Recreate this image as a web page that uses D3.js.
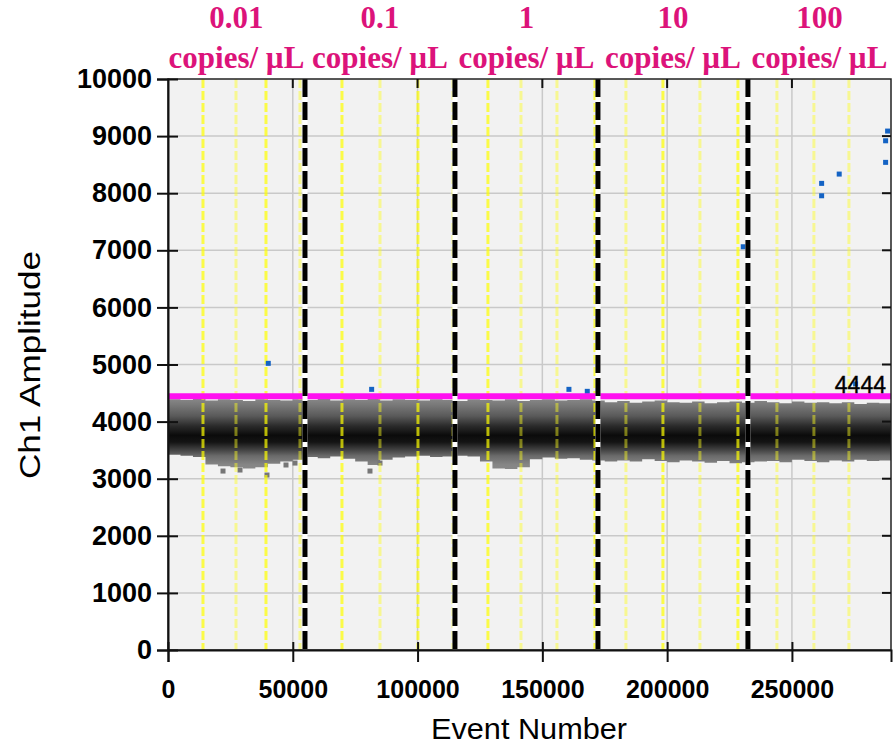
<!DOCTYPE html>
<html><head><meta charset="utf-8">
<script src="https://cdn.jsdelivr.net/npm/d3@7"></script>
<style>body{margin:0;background:#fff}svg{display:block}</style>
</head><body>
<svg id="chart" width="894" height="746"></svg>
<script>
// ---------------- data ----------------
const concentrations = ["0.01", "0.1", "1", "10", "100"];
const unitLabel = "copies/ µL";
const xMax = 289700;
const xTicks = [0, 50000, 100000, 150000, 200000, 250000];
const yTicks = [0, 1000, 2000, 3000, 4000, 5000, 6000, 7000, 8000, 9000, 10000];
const threshold = 4444;
// sample (well-group) boundaries, in event number
const sampleBoundaries = [54890, 114980, 172280, 232370];
// individual well boundaries (yellow dashed), event number
const wellLinesStrong = [14020, 39260, 69710, 100160, 128200, 171070, 198320, 228370];
const wellLinesFaint = [27240, 52880, 84940, 114180, 141430, 155850, 183490, 213140, 243990, 258810, 272840];
// negative-droplet cloud envelope, 5000-event bins
const bandStart = [0,5000,10000,15000,20000,25000,30000,35000,40000,45000,50000,55000,60000,65000,70000,75000,80000,85000,90000,95000,100000,105000,110000,115000,120000,125000,130000,135000,140000,145000,150000,155000,160000,165000,170000,175000,180000,185000,190000,195000,200000,205000,210000,215000,220000,225000,230000,235000,240000,245000,250000,255000,260000,265000,270000,275000,280000,285000];
const bandHigh = [4390,4380,4400,4370,4390,4380,4360,4390,4380,4370,4390,4380,4400,4370,4390,4380,4400,4370,4390,4380,4370,4390,4380,4360,4390,4380,4370,4390,4360,4380,4390,4370,4380,4390,4370,4340,4360,4330,4350,4370,4340,4330,4350,4320,4340,4350,4330,4360,4340,4320,4350,4330,4340,4320,4340,4310,4330,4320];
const bandLow = [3420,3400,3380,3250,3220,3200,3180,3200,3260,3300,3330,3380,3360,3390,3350,3300,3240,3330,3370,3390,3400,3380,3390,3400,3390,3300,3180,3170,3200,3340,3370,3350,3360,3330,3320,3300,3320,3300,3340,3310,3290,3320,3300,3280,3310,3270,3290,3300,3310,3290,3330,3310,3290,3320,3300,3330,3310,3320];
// stray low negative droplets
const lowEvents = [22040, 28850, 39660, 47280, 50880, 80930, 84940];
const lowAmps = [3134, 3152, 3064, 3240, 3274, 3134, 3274];
// positive droplets
const posEvents = [40180, 81600, 160650, 168000, 230500, 261900, 261900, 268950, 275500, 287540, 287540, 288340];
const posAmps = [5020, 4565, 4565, 4530, 7062, 8172, 7955, 8335, 4660, 8918, 8540, 9088];

// ---------------- drawing ----------------
const L = 168, R = 891, T = 79, B = 650;
const svg = d3.select("#chart");
const x = d3.scaleLinear().domain([0, xMax]).range([L, R]);
const y = d3.scaleLinear().domain([0, 10000]).range([B, T]);

svg.append("rect").attr("x", L).attr("y", T).attr("width", R - L).attr("height", B - T).attr("fill", "#f2f2f2");

// grid
svg.append("g").selectAll("line").data(yTicks.slice(1, -1)).join("line")
  .attr("x1", L).attr("x2", R).attr("y1", d => y(d)).attr("y2", d => y(d))
  .attr("stroke", "#c9c9c9").attr("stroke-width", 1.5);
svg.append("g").selectAll("line").data(xTicks.slice(1)).join("line")
  .attr("x1", d => x(d)).attr("x2", d => x(d)).attr("y1", T).attr("y2", B)
  .attr("stroke", "#c9c9c9").attr("stroke-width", 1.5);

// band gradient
const defs = svg.append("defs");
const grad = defs.append("linearGradient").attr("id", "bandGrad")
  .attr("gradientUnits", "userSpaceOnUse").attr("x1", 0).attr("x2", 0)
  .attr("y1", y(4450)).attr("y2", y(3000));
const stops = [[4450, "#8e8e8e"], [4300, "#7a7a7a"], [4100, "#5a5a5a"], [3920, "#2a2a2a"], [3760, "#0b0b0b"], [3640, "#141414"], [3500, "#444444"], [3400, "#6a6a6a"], [3250, "#858585"], [3000, "#8e8e8e"]];
stops.forEach(s => grad.append("stop").attr("offset", (4450 - s[0]) / 1450).attr("stop-color", s[1]));

const bandData = bandStart.map((s, i) => ({ s, hi: bandHigh[i], lo: bandLow[i] }));
bandData.push({ s: xMax, hi: bandHigh[bandHigh.length - 1], lo: bandLow[bandLow.length - 1] });
const area = d3.area().curve(d3.curveStepAfter)
  .x(d => x(d.s)).y0(d => y(d.lo)).y1(d => y(d.hi));
svg.append("path").datum(bandData).attr("d", area).attr("fill", "url(#bandGrad)");

// stray low droplets
svg.append("g").selectAll("rect").data(lowEvents).join("rect")
  .attr("x", (d) => x(d) - 2.5).attr("y", (d, i) => y(lowAmps[i]) - 2.5)
  .attr("width", 5).attr("height", 5).attr("fill", "#767676");

// yellow well lines
const yl = svg.append("g");
yl.selectAll("line.s").data(wellLinesStrong).join("line").attr("class", "s")
  .attr("x1", d => x(d)).attr("x2", d => x(d)).attr("y1", T).attr("y2", B)
  .attr("stroke", "#ffff00").attr("stroke-width", 3).attr("stroke-dasharray", "9,3")
  .attr("opacity", 0.7);
yl.selectAll("line.f").data(wellLinesFaint).join("line").attr("class", "f")
  .attr("x1", d => x(d)).attr("x2", d => x(d)).attr("y1", T).attr("y2", B)
  .attr("stroke", "#ffff20").attr("stroke-width", 3).attr("stroke-dasharray", "9,3")
  .attr("opacity", 0.45);

// positive droplets
svg.append("g").selectAll("rect").data(posEvents).join("rect")
  .attr("x", d => x(d) - 2.5).attr("y", (d, i) => y(posAmps[i]) - 2.5)
  .attr("width", 5).attr("height", 5).attr("fill", "#1463c4");

// threshold
svg.append("line").attr("x1", L).attr("x2", R).attr("y1", y(threshold)).attr("y2", y(threshold))
  .attr("stroke", "#ff10f0").attr("stroke-width", 6);
svg.append("text").attr("x", 886).attr("y", y(threshold) - 3).attr("text-anchor", "end")
  .attr("font-family", "Liberation Sans, Arial, sans-serif").attr("font-size", 23).attr("fill", "#000")
  .attr("stroke", "#000").attr("stroke-width", 0.4)
  .text(String(threshold));

// sample boundaries
svg.append("g").selectAll("line").data(sampleBoundaries).join("line")
  .attr("x1", d => x(d)).attr("x2", d => x(d)).attr("y1", T).attr("y2", B)
  .attr("stroke", "#ffffff").attr("stroke-width", 5);
svg.append("g").selectAll("line").data(sampleBoundaries).join("line")
  .attr("x1", d => x(d)).attr("x2", d => x(d)).attr("y1", T).attr("y2", B)
  .attr("stroke", "#000").attr("stroke-width", 5).attr("stroke-dasharray", "18,5");

// frame
svg.append("rect").attr("x", L).attr("y", T).attr("width", R - L).attr("height", B - T)
  .attr("fill", "none").attr("stroke", "#222").attr("stroke-width", 1.5);

// axes
const axisFont = "Liberation Sans, Arial, sans-serif";
const gy = svg.append("g").attr("transform", `translate(${L},0)`)
  .call(d3.axisLeft(y).tickValues(yTicks).tickSize(11).tickPadding(5).tickFormat(d3.format("d")));
gy.select(".domain").attr("stroke", "#111").attr("stroke-width", 2);
gy.selectAll(".tick line").attr("x1", 10).attr("stroke", "#111").attr("stroke-width", 2);
gy.selectAll(".tick text").attr("font-family", axisFont).attr("font-weight", "bold").attr("font-size", 27).attr("fill", "#000");

const gx = svg.append("g").attr("transform", `translate(0,${B})`)
  .call(d3.axisBottom(x).tickValues(xTicks).tickSize(12).tickPadding(18).tickFormat(d3.format("d")));
gx.select(".domain").attr("stroke", "#111").attr("stroke-width", 2);
gx.selectAll(".tick line").attr("y1", -8).attr("stroke", "#111").attr("stroke-width", 2);
gx.selectAll(".tick text").attr("font-family", axisFont).attr("font-weight", "bold").attr("font-size", 25).attr("fill", "#000");

// top & right inner ticks
svg.append("g").selectAll("line").data(xTicks.slice(1)).join("line")
  .attr("x1", d => x(d)).attr("x2", d => x(d)).attr("y1", T).attr("y2", T + 9)
  .attr("stroke", "#111").attr("stroke-width", 2);
svg.append("g").selectAll("line").data(yTicks.slice(1, -1)).join("line")
  .attr("x1", R - 9).attr("x2", R).attr("y1", d => y(d)).attr("y2", d => y(d))
  .attr("stroke", "#111").attr("stroke-width", 2);

// sample labels
const edges = [0, ...sampleBoundaries, xMax];
const centers = concentrations.map((c, i) => (x(edges[i]) + x(edges[i + 1])) / 2);
const lab = svg.append("g").attr("font-family", "Liberation Serif, Times New Roman, serif")
  .attr("font-weight", "bold").attr("font-size", 31).attr("fill", "#dc137a").attr("text-anchor", "middle");
lab.selectAll("text.c").data(concentrations).join("text").attr("class", "c")
  .attr("x", (d, i) => centers[i]).attr("y", 28).text(d => d);
lab.selectAll("text.u").data(concentrations).join("text").attr("class", "u")
  .attr("x", (d, i) => centers[i]).attr("y", 68).text(unitLabel);

// axis titles
svg.append("text").attr("transform", "translate(40,365) rotate(-90)").attr("text-anchor", "middle")
  .attr("font-family", axisFont).attr("font-size", 30).attr("textLength", 228).attr("lengthAdjust", "spacingAndGlyphs")
  .attr("fill", "#000").text("Ch1 Amplitude");
svg.append("text").attr("x", 529).attr("y", 739).attr("text-anchor", "middle")
  .attr("font-family", axisFont).attr("font-size", 30).attr("textLength", 196).attr("lengthAdjust", "spacingAndGlyphs")
  .attr("fill", "#000").text("Event Number");
</script>
</body></html>
